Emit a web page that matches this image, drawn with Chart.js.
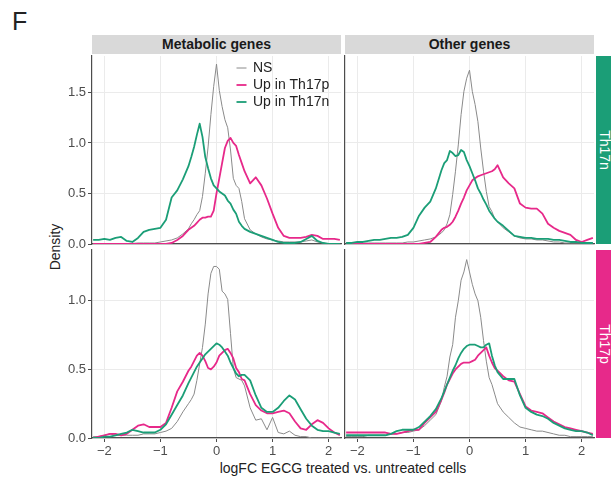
<!DOCTYPE html>
<html>
<head>
<meta charset="utf-8">
<script src="https://cdn.jsdelivr.net/npm/chart.js@4.4.1/dist/chart.umd.min.js"></script>
<style>
body { margin: 0; background: #fff; }
#wrap { position: relative; width: 611px; height: 478px; overflow: hidden; font-family: "Liberation Sans", Arial, sans-serif; }
canvas { position: absolute; }
.strip { position: absolute; background: #d9d9d9; color: #1a1a1a; font-weight: bold; font-size: 14px; text-align: center; line-height: 19px; }
.rstrip { position: absolute; color: #fff; font-size: 14px; }
.rstrip span { position: absolute; left: 50%; top: 50%; transform: translate(-50%, -50%) rotate(90deg); white-space: nowrap; }
.lbl { position: absolute; color: #222; white-space: nowrap; }
</style>
</head>
<body>
<div id="wrap">
  <div class="lbl" style="left:12px;top:9px;font-size:25px;line-height:25px;">F</div>
  <div class="strip" style="left:92px;top:35px;width:249px;height:19px;">Metabolic genes</div>
  <div class="strip" style="left:345px;top:35px;width:249px;height:19px;">Other genes</div>
  <div class="rstrip" style="left:596px;top:56px;width:18px;height:188px;background:#1b9e77;"><span>Th17n</span></div>
  <div class="rstrip" style="left:596px;top:250px;width:18px;height:188px;background:#e7298a;"><span>Th17p</span></div>
  <div class="lbl" style="left:55px;top:247px;font-size:14px;transform:translate(-50%,-50%) rotate(-90deg);">Density</div>
  <div class="lbl" style="left:343px;top:468px;font-size:14px;transform:translate(-50%,-50%);">logFC EGCG treated vs. untreated cells</div>
  <canvas id="tl" width="346" height="210" style="left:0;top:46px;"></canvas>
  <canvas id="tr" width="270" height="210" style="left:330px;top:46px;"></canvas>
  <canvas id="bl" width="346" height="238" style="left:0;top:240px;"></canvas>
  <canvas id="br" width="270" height="238" style="left:330px;top:240px;"></canvas>
</div>
<script>
// shared logFC grid (finer around 0 where the peaks are)
const xs = [-2.2,-2.1,-2.0,-1.9,-1.8,-1.7,-1.6,-1.5,-1.4,-1.3,-1.2,-1.1,-1.0,-0.9,-0.8,-0.7,-0.6,-0.5,
  -0.45,-0.4,-0.35,-0.3,-0.25,-0.2,-0.15,-0.1,-0.05,0,0.05,0.1,0.15,0.2,0.25,0.3,0.35,0.4,0.45,
  0.5,0.6,0.7,0.8,0.9,1.0,1.1,1.2,1.3,1.4,1.5,1.6,1.7,1.8,1.9,2.0,2.1,2.2];

const seriesNames = ["NS", "Up in Th17p", "Up in Th17n"];
const colNames = ["Metabolic genes", "Other genes"];
const rowNames = ["Th17n", "Th17p"];
const xTicks = [-2, -1, 0, 1, 2];

// Metabolic genes / Th17n
const metabNS_n = [0,0,0,0,0,0,0.005,0.005,0.01,0.01,0.01,0.01,0.02,0.03,0.04,0.06,0.1,0.15,
  0.2,0.24,0.29,0.33,0.47,0.7,0.96,1.28,1.56,1.78,1.52,1.36,1.23,1.15,0.93,0.65,0.58,0.55,0.42,
  0.25,0.14,0.1,0.07,0.05,0.04,0.03,0.02,0.02,0.02,0.02,0.03,0.04,0.02,0.01,0,0,0];
const metabUpP_n = [0,0,0,0,0,0,0,0,0,0,0,0,0,0,0.01,0.04,0.08,0.14,
  0.16,0.18,0.21,0.24,0.26,0.26,0.27,0.27,0.33,0.5,0.65,0.8,0.95,1.02,1.05,1.0,0.97,0.88,0.8,
  0.72,0.6,0.66,0.58,0.45,0.3,0.16,0.08,0.06,0.06,0.06,0.07,0.09,0.08,0.05,0.05,0.05,0.04];
const metabUpN_n = [0.04,0.04,0.05,0.04,0.06,0.07,0.03,0.02,0.06,0.12,0.14,0.15,0.16,0.24,0.46,0.53,0.64,0.77,
  0.86,0.96,1.08,1.19,1.06,0.86,0.75,0.65,0.58,0.55,0.52,0.5,0.48,0.43,0.4,0.34,0.3,0.22,0.18,
  0.15,0.12,0.1,0.08,0.06,0.04,0.02,0.01,0.01,0.01,0.02,0.05,0.08,0.03,0.01,0,0,0];

// Other genes / Th17n
const otherNS_n = [0.01,0.01,0.01,0.01,0.01,0.01,0.01,0.01,0.01,0.01,0.01,0.02,0.02,0.03,0.04,0.05,0.07,0.11,
  0.14,0.2,0.29,0.49,0.72,0.98,1.28,1.51,1.64,1.72,1.51,1.38,1.21,0.95,0.72,0.52,0.37,0.32,0.25,
  0.22,0.16,0.12,0.08,0.06,0.05,0.05,0.04,0.04,0.03,0.02,0.02,0.01,0.01,0.01,0.01,0.01,0.01];
const otherUpP_n = [0,0,0,0,0,0,0,0,0,0,0,0,0,0,0.01,0.02,0.07,0.14,
  0.16,0.17,0.19,0.22,0.27,0.33,0.4,0.46,0.53,0.58,0.63,0.65,0.67,0.68,0.69,0.7,0.71,0.72,0.74,
  0.78,0.66,0.6,0.55,0.4,0.36,0.35,0.35,0.3,0.2,0.16,0.13,0.11,0.09,0.04,0.02,0.04,0.06];
const otherUpN_n = [0.01,0.01,0.02,0.02,0.03,0.04,0.04,0.05,0.06,0.06,0.07,0.09,0.16,0.28,0.36,0.42,0.55,0.73,
  0.8,0.83,0.92,0.9,0.87,0.88,0.93,0.91,0.83,0.77,0.7,0.63,0.55,0.5,0.44,0.39,0.33,0.29,0.25,
  0.22,0.18,0.13,0.08,0.07,0.06,0.06,0.05,0.05,0.05,0.04,0.04,0.03,0.02,0.02,0.01,0.01,0.01];

// Metabolic genes / Th17p
const metabNS_p = [0.01,0.01,0.02,0.03,0.02,0.02,0.02,0.02,0.02,0.03,0.03,0.03,0.04,0.05,0.07,0.12,0.19,0.25,
  0.28,0.32,0.42,0.54,0.66,0.83,1.05,1.2,1.25,1.25,1.23,1.07,1.05,1.01,0.76,0.51,0.44,0.43,0.42,
  0.38,0.22,0.13,0.14,0.06,0.15,0.04,0.03,0.05,0.02,0.01,0.01,0,0,0,0,0,0];
const metabUpP_p = [0,0.01,0.02,0.03,0.03,0.02,0.03,0.06,0.09,0.1,0.08,0.08,0.08,0.11,0.22,0.34,0.41,0.49,
  0.52,0.56,0.6,0.62,0.6,0.56,0.51,0.5,0.52,0.55,0.6,0.62,0.64,0.65,0.62,0.58,0.51,0.48,0.43,
  0.42,0.32,0.24,0.2,0.18,0.18,0.19,0.2,0.18,0.12,0.07,0.06,0.1,0.13,0.11,0.07,0.04,0.02];
const metabUpN_p = [0,0,0.01,0.01,0.02,0.03,0.04,0.06,0.05,0.04,0.04,0.04,0.06,0.1,0.17,0.24,0.31,0.4,
  0.44,0.48,0.52,0.55,0.58,0.61,0.63,0.65,0.67,0.69,0.68,0.66,0.63,0.6,0.55,0.51,0.47,0.45,0.46,
  0.46,0.42,0.31,0.22,0.19,0.19,0.22,0.27,0.31,0.28,0.21,0.14,0.09,0.06,0.05,0.05,0.04,0.03];

// Other genes / Th17p
const otherNS_p = [0.01,0.01,0.01,0.01,0.02,0.02,0.02,0.02,0.03,0.03,0.04,0.04,0.05,0.06,0.09,0.13,0.17,0.27,
  0.37,0.45,0.59,0.68,0.88,1.0,1.15,1.21,1.3,1.21,1.12,1.05,1.0,0.88,0.71,0.56,0.44,0.39,0.32,
  0.25,0.19,0.15,0.11,0.08,0.07,0.06,0.05,0.05,0.04,0.03,0.02,0.02,0.01,0.01,0.01,0.01,0.01];
const otherUpP_p = [0.04,0.04,0.04,0.04,0.04,0.04,0.04,0.04,0.03,0.03,0.04,0.05,0.06,0.06,0.11,0.15,0.19,0.28,
  0.33,0.39,0.43,0.47,0.5,0.52,0.54,0.55,0.55,0.55,0.56,0.57,0.6,0.62,0.64,0.66,0.6,0.55,0.51,
  0.49,0.45,0.42,0.41,0.32,0.23,0.2,0.19,0.18,0.15,0.12,0.1,0.08,0.07,0.06,0.05,0.04,0.03];
const otherUpN_p = [0.02,0.02,0.02,0.02,0.02,0.02,0.02,0.02,0.03,0.05,0.06,0.06,0.06,0.08,0.12,0.16,0.21,0.29,
  0.34,0.39,0.44,0.49,0.53,0.58,0.62,0.65,0.67,0.68,0.68,0.68,0.67,0.66,0.66,0.68,0.69,0.6,0.53,
  0.48,0.43,0.43,0.43,0.31,0.22,0.19,0.17,0.16,0.14,0.11,0.09,0.07,0.06,0.05,0.05,0.04,0.02];

const lineColors = ["#8a8a8a", "#e7298a", "#1b9e77"];
const lineWidths = [1, 1.8, 1.8];
const axisColor = "#4d4d4d";
const gridColor = "#ebebeb";
const FONT = "'Liberation Sans', Arial, sans-serif";

function pts(ys) {
  return xs.map((x, i) => ({ x: x, y: ys[i] }));
}

function fmt(v) {
  return v < 0 ? "\u2212" + Math.abs(v) : String(v);
}

// legend drawn inside the first panel
const insideLegend = {
  id: "insideLegend",
  afterDraw(chart) {
    const ctx = chart.ctx;
    chart.data.datasets.forEach((ds, i) => {
      const y = 22 + i * 17;
      ctx.save();
      ctx.strokeStyle = ds.borderColor;
      ctx.lineWidth = ds.borderWidth;
      ctx.beginPath();
      ctx.moveTo(236.5, y);
      ctx.lineTo(246.5, y);
      ctx.stroke();
      ctx.fillStyle = "#222";
      ctx.font = "14px " + FONT;
      ctx.textBaseline = "middle";
      ctx.fillText(ds.label, 253, y);
      ctx.restore();
    });
  }
};

function panel(id, series, o) {
  const datasets = series.map((ys, i) => ({
    label: seriesNames[i],
    data: pts(ys),
    borderColor: lineColors[i],
    borderWidth: lineWidths[i],
    borderJoinStyle: "round",
    pointRadius: 0,
    tension: 0,
    fill: false,
    order: 3 - i
  }));
  new Chart(document.getElementById(id), {
    type: "line",
    data: { datasets: datasets },
    options: {
      responsive: false,
      animation: false,
      events: [],
      layout: { padding: { top: 10, right: o.right, bottom: 0, left: 0 } },
      plugins: { legend: { display: false }, tooltip: { enabled: false } },
      scales: {
        x: {
          type: "linear",
          min: -2.22,
          max: 2.22,
          afterBuildTicks: s => { s.ticks = xTicks.map(v => ({ value: v })); },
          afterFit: s => { s.height = o.xH; },
          ticks: {
            display: o.xLabels,
            color: axisColor,
            font: { family: FONT, size: 13 },
            padding: 2,
            maxRotation: 0,
            callback: v => fmt(v)
          },
          grid: { color: gridColor, lineWidth: 1, drawTicks: o.xLabels, tickLength: 4, tickColor: axisColor },
          border: { display: true, color: axisColor, width: 1.2 }
        },
        y: {
          type: "linear",
          min: 0,
          max: o.ymax,
          afterBuildTicks: s => { s.ticks = o.yTicks.map(v => ({ value: v })); },
          afterFit: s => { s.width = o.yW; },
          ticks: {
            display: o.yLabels,
            color: axisColor,
            font: { family: FONT, size: 13 },
            padding: 2,
            callback: v => v.toFixed(1)
          },
          grid: { color: gridColor, lineWidth: 1, drawTicks: o.yLabels, tickLength: 4, tickColor: axisColor },
          border: { display: true, color: axisColor, width: 1.2 }
        }
      }
    },
    plugins: o.legend ? [insideLegend] : []
  });
}

const topTicks = [0, 0.5, 1.0, 1.5];
const botTicks = [0, 0.5, 1.0];

panel("tl", [metabNS_n, metabUpP_n, metabUpN_n],
  { right: 5, xH: 12, yW: 92, ymax: 1.86, yTicks: topTicks, xLabels: false, yLabels: true, legend: true });
panel("tr", [otherNS_n, otherUpP_n, otherUpN_n],
  { right: 6, xH: 12, yW: 15, ymax: 1.86, yTicks: topTicks, xLabels: false, yLabels: false, legend: false });
panel("bl", [metabNS_p, metabUpP_p, metabUpN_p],
  { right: 5, xH: 40, yW: 92, ymax: 1.37, yTicks: botTicks, xLabels: true, yLabels: true, legend: false });
panel("br", [otherNS_p, otherUpP_p, otherUpN_p],
  { right: 6, xH: 40, yW: 15, ymax: 1.37, yTicks: botTicks, xLabels: true, yLabels: false, legend: false });
</script>
</body>
</html>
